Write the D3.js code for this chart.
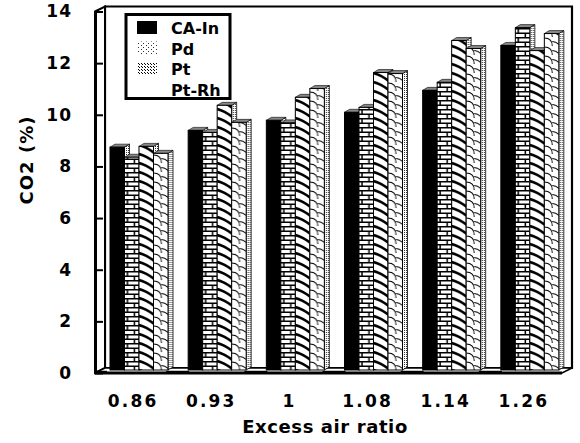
<!DOCTYPE html>
<html><head><meta charset="utf-8">
<script src="https://cdn.jsdelivr.net/npm/d3@7"></script>
<style>body{margin:0;background:#fff} svg{display:block}</style>
</head><body>
<svg id="chart" width="580" height="443"></svg>
<script>
// CO2 concentration by excess air ratio for four catalyst types
const categories = ["0.86", "0.93", "1", "1.08", "1.14", "1.26"];
const seriesNames = ["CA-In", "Pd", "Pt", "Pt-Rh"];
const caIn = [8.63, 9.28, 9.67, 9.98, 10.83, 12.57];
const pd   = [8.24, 9.20, 9.57, 10.17, 11.14, 13.26];
const pt   = [8.66, 10.25, 10.56, 11.52, 12.76, 12.37];
const ptRh = [8.39, 9.59, 10.90, 11.48, 12.45, 13.03];
const yTicks = [0, 2, 4, 6, 8, 10, 12, 14];

const seriesValues = [caIn, pd, pt, ptRh];
const FONT = "'DejaVu Sans', sans-serif";

const svg = d3.select("#chart");
const defs = svg.append("defs");

// depth of the box and of the bars
const DX = 10, DY = -5;
const BDX = 5, BDY = -3, BASE = -3;

const y = d3.scaleLinear().domain([0, 14]).range([373, 11.5]);
const x = d3.scaleBand().domain(categories).range([94, 563]);
const xs = d3.scaleBand().domain(seriesNames).range([16, 74]);
const bw = xs.bandwidth();

// ---- fill patterns (user space of each bar: origin at its bottom-left corner)
function pat(id, w, h) {
  return defs.append("pattern").attr("id", id)
    .attr("patternUnits", "userSpaceOnUse")
    .attr("width", w).attr("height", h);
}
// brick
const pBrick = pat("brick", bw, 9);
pBrick.append("rect").attr("width", bw).attr("height", 9).attr("fill", "#fff");
pBrick.append("path")
  .attr("d", `M0,0.75H${bw} M0,5.25H${bw} M3,0.75V5.25 M10,5.25V9`)
  .attr("stroke", "#000").attr("stroke-width", 1.5).attr("fill", "none");
// thick diagonal strokes
const pDiag = pat("diag", bw, 9);
pDiag.append("rect").attr("width", bw).attr("height", 9).attr("fill", "#fff");
[-9, 0, 9].forEach(k => {
  pDiag.append("path")
    .attr("d", `M-1,${k} Q6,${k + 1} ${bw + 1},${k + 8}`)
    .attr("stroke", "#000").attr("stroke-width", 2.6).attr("fill", "none");
});
// scallops
const pScal = pat("scal", bw, 9);
pScal.append("rect").attr("width", bw).attr("height", 9).attr("fill", "#fff");
pScal.append("path")
  .attr("d", `M0,1 C5,1 8,4 8,9 M8,4.5 C10.5,4.5 12.5,5.5 ${bw},7.5`)
  .attr("stroke", "#000").attr("stroke-width", 1).attr("fill", "none");
// fine dots for side faces
const pDots = pat("dots", 2, 2);
pDots.append("rect").attr("width", 2).attr("height", 2).attr("fill", "#fff");
pDots.append("rect").attr("width", 1).attr("height", 1).attr("fill", "#333");
// legend swatch textures
const pLegPd = pat("legpd", 5, 4);
pLegPd.append("rect").attr("x", 1).attr("y", 1).attr("width", 1).attr("height", 1).attr("fill", "#333");
pLegPd.append("rect").attr("x", 3).attr("y", 3).attr("width", 1).attr("height", 1).attr("fill", "#333");
const pLegPt = pat("legpt", 3, 3);
pLegPt.append("rect").attr("x", 0).attr("y", 0).attr("width", 1).attr("height", 1).attr("fill", "#000");
pLegPt.append("rect").attr("x", 1).attr("y", 1).attr("width", 1).attr("height", 1).attr("fill", "#000");

const fills = ["#000", "url(#brick)", "url(#diag)", "url(#scal)"];

// ---- 3D box: back wall, left wall, floor
const xl = x.range()[0] + 1, xr = x.range()[1] - 1;
const y0 = y(0), yTop = y(14);
const pts = a => a.map(p => p.join(",")).join(" ");

svg.append("polygon")
  .attr("points", pts([[xl + DX, yTop + DY], [xr + DX, yTop + DY], [xr + DX, y0 + DY], [xl + DX, y0 + DY]]))
  .attr("fill", "#fff").attr("stroke", "#000").attr("stroke-width", 2.2);
svg.append("polygon")
  .attr("points", pts([[xl, yTop], [xl + DX, yTop + DY], [xl + DX, y0 + DY], [xl, y0]]))
  .attr("fill", "#fff").attr("stroke", "#000").attr("stroke-width", 2);
svg.append("polygon")
  .attr("points", pts([[xl, y0], [xl + DX, y0 + DY], [xr + DX, y0 + DY], [xr, y0]]))
  .attr("fill", "#fff").attr("stroke", "#000").attr("stroke-width", 1.5);
svg.append("line")
  .attr("x1", xl).attr("x2", xr).attr("y1", y0).attr("y2", y0)
  .attr("stroke", "#000").attr("stroke-width", 3);
svg.append("line")
  .attr("x1", xl).attr("x2", xl + DX + 2).attr("y1", y0 + BASE + 1.5).attr("y2", y0 + BASE + 1.5)
  .attr("stroke", "#000").attr("stroke-width", 1.5);
categories.forEach((c, i) => {
  if (i === 0) return;
  svg.append("line")
    .attr("x1", x(c) - 6).attr("x2", x(c) + xs.range()[0] + 1)
    .attr("y1", y0 + BASE + 1.5).attr("y2", y0 + BASE + 1.5)
    .attr("stroke", "#000").attr("stroke-width", 1.5);
});

// ---- bars
const rows = [];
categories.forEach((c, gi) => seriesNames.forEach((s, si) => rows.push({ c, s, si, v: seriesValues[si][gi] })));

const bars = svg.append("g").selectAll("g").data(rows).join("g")
  .attr("transform", d => `translate(${x(d.c) + xs(d.s)},${y0 + BASE})`);

bars.each(function (d) {
  const g = d3.select(this);
  const h = y0 - y(d.v);
  g.append("polygon")
    .attr("points", pts([[bw, 0], [bw + BDX, BDY], [bw + BDX, -h + BDY], [bw, -h]]))
    .attr("fill", "url(#dots)").attr("stroke", "#000").attr("stroke-width", 0.8);
  g.append("polygon")
    .attr("points", pts([[0, -h], [BDX, -h + BDY], [bw + BDX, -h + BDY], [bw, -h]]))
    .attr("fill", "#888").attr("stroke", "#000").attr("stroke-width", 0.6);
  g.append("rect")
    .attr("x", 0).attr("y", -h).attr("width", bw).attr("height", h)
    .attr("fill", fills[d.si]).attr("stroke", "#000").attr("stroke-width", 1);
});

// ---- y axis on the front-left edge
const yAxis = d3.axisLeft(y).tickValues(yTicks).tickSize(-8).tickSizeOuter(0).tickPadding(23)
  .tickFormat(d3.format("d"));
const ag = svg.append("g").attr("transform", `translate(${xl},0)`).call(yAxis);
ag.select(".domain").attr("stroke-width", 3);
ag.selectAll(".tick line").attr("stroke-width", 2);
ag.selectAll(".tick text")
  .attr("font-family", FONT).attr("font-weight", "bold").attr("font-size", 17).attr("fill", "#000")
  .attr("letter-spacing", 1);

// ---- category labels
svg.append("g").selectAll("text").data(categories).join("text")
  .attr("x", d => x(d) + x.bandwidth() / 2)
  .attr("y", 407)
  .attr("text-anchor", "middle")
  .attr("font-family", FONT).attr("font-weight", "bold").attr("font-size", 17)
  .attr("letter-spacing", 2.2)
  .text(d => d);

// ---- axis titles
svg.append("text")
  .attr("x", 325).attr("y", 433).attr("text-anchor", "middle")
  .attr("font-family", FONT).attr("font-weight", "bold").attr("font-size", 18)
  .attr("letter-spacing", 0.6)
  .text("Excess air ratio");
svg.append("text")
  .attr("transform", "translate(33,160) rotate(-90)")
  .attr("text-anchor", "middle")
  .attr("font-family", FONT).attr("font-weight", "bold").attr("font-size", 18)
  .attr("letter-spacing", 1)
  .text("CO2 (%)");

// ---- legend
const lg = svg.append("g");
lg.append("rect").attr("x", 126).attr("y", 14.5).attr("width", 104).attr("height", 84)
  .attr("fill", "#fff").attr("stroke", "#000").attr("stroke-width", 3);
const legFills = ["#000", "url(#legpd)", "url(#legpt)", "none"];
seriesNames.forEach((s, i) => {
  const base = 34 + i * 20.5;
  lg.append("rect").attr("x", 137).attr("y", base - 13).attr("width", 20).attr("height", 13)
    .attr("fill", legFills[i]);
  lg.append("text").attr("x", 171).attr("y", base)
    .attr("font-family", FONT).attr("font-weight", "bold").attr("font-size", 16)
    .text(s);
});
</script>
</body></html>
